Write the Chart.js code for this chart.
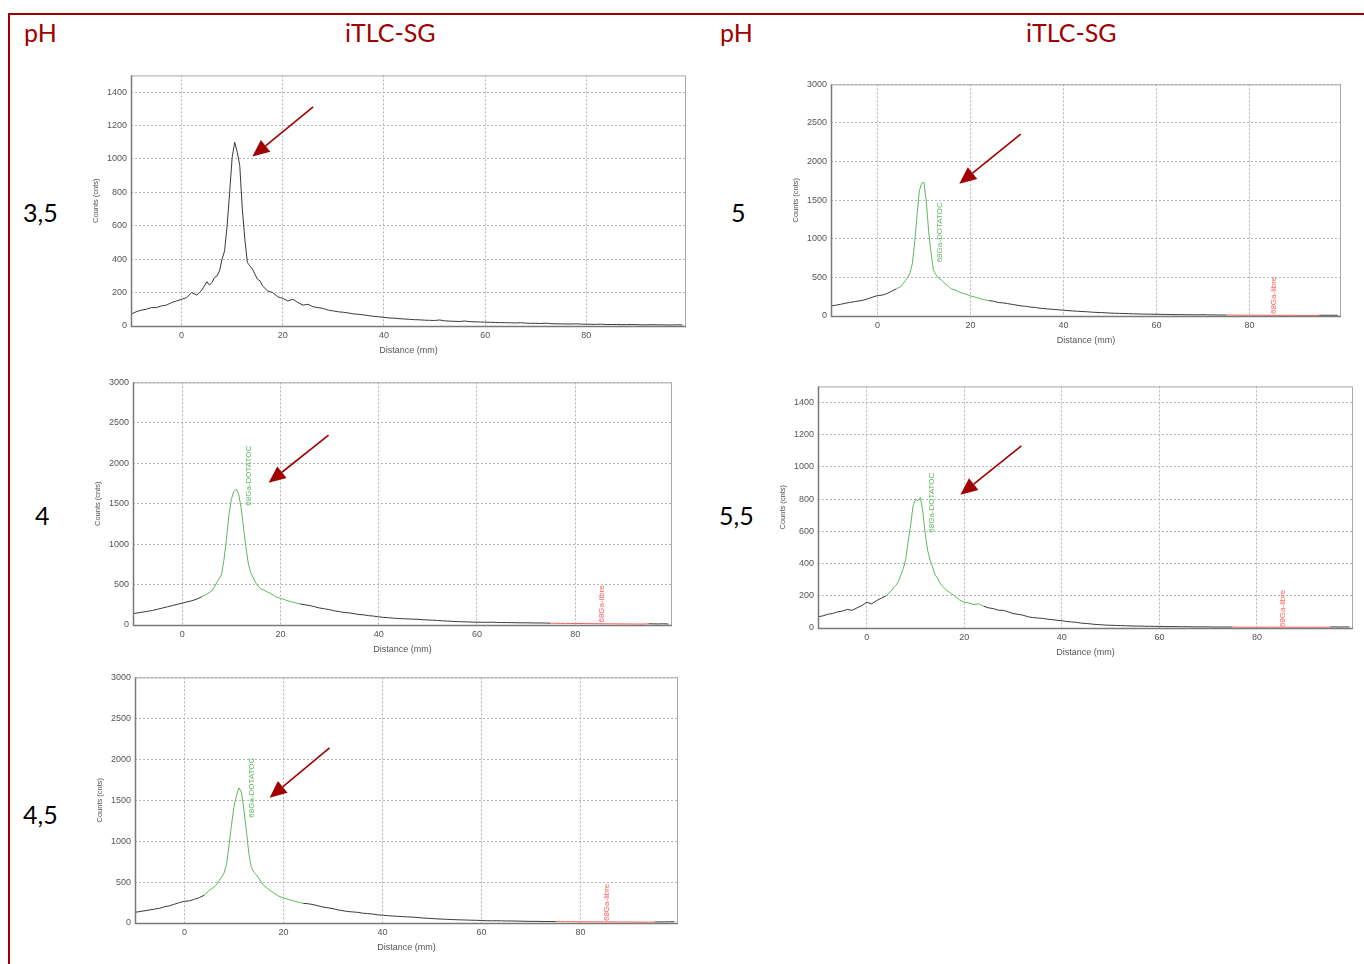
<!DOCTYPE html>
<html><head><meta charset="utf-8">
<script src="https://cdn.jsdelivr.net/npm/chart.js@4"></script>
<style>
body{margin:0;background:#fff;width:1364px;height:964px;overflow:hidden;position:relative;font-family:Lato,"Open Sans",sans-serif}
.frameTop{position:absolute;left:9px;top:13px;width:1355px;height:2px;background:#a00000}
.frameLeft{position:absolute;left:8px;top:13px;width:2px;height:951px;background:#a00000}
.t{position:absolute;font-size:25px;line-height:1;white-space:nowrap;color:#000}
.red{color:#a00000}
canvas{position:absolute}
</style></head><body>
<div class="frameTop"></div><div class="frameLeft"></div>
<div class="t red" style="left:24px;top:20px">pH</div>
<div class="t red" style="left:345px;top:20px">iTLC-SG</div>
<div class="t red" style="left:720px;top:20px">pH</div>
<div class="t red" style="left:1026px;top:20px">iTLC-SG</div>
<div class="t" style="left:23px;top:200px">3,5</div>
<div class="t" style="left:35px;top:503px">4</div>
<div class="t" style="left:23px;top:802px">4,5</div>
<div class="t" style="left:731px;top:200px">5</div>
<div class="t" style="left:719px;top:503px">5,5</div>
<canvas id="cA"></canvas><canvas id="cB"></canvas><canvas id="cC"></canvas><canvas id="cD"></canvas><canvas id="cE"></canvas>
<script>
// shared distance grid (mm)
const distance = [-10,-9,-8,-7,-6,-5,-4,-3,-2,-1,0,1,2,3,4,
 5,5.5,6,6.5,7,7.5,8,8.5,9,9.5,10,10.5,11,11.5,12,12.5,13,13.5,14,14.5,15,15.5,16,
 17,18,19,20,21,22,23,24,25,26,27,28,29,30,31,32,33,34,35,36,37,38,39,40,41,42,43,44,45,46,47,48,49,50,
 51,52,53,54,55,56,57,58,59,60,61,62,63,64,65,66,67,68,69,70,71,72,73,74,75,76,77,78,79,80,
 81,82,83,84,85,86,87,88,89,90,91,92,93,94,95,96,97,98,99];

const countsPH35 = [70,85,95,100,110,110,120,125,140,150,160,170,200,185,215,
 265,245,260,290,300,330,400,450,600,800,1010,1100,1040,960,700,520,380,360,340,310,280,270,240,
 210,200,175,165,150,160,140,125,130,115,110,105,95,90,85,82,78,72,70,66,62,58,55,52,48,47,44,42,40,38,37,35,34,33,
 36,31,29,28,27,30,26,25,24,23,22,21,20,20,19,18,20,17,16,16,15,17,14,13,13,12,12,13,11,11,
 10,10,11,9,9,9,8,8,9,8,7,7,8,7,7,6,6,7,6];

const countsPH4 = [140,150,160,170,180,195,210,225,240,255,270,285,300,320,350,
 380,400,420,460,520,570,620,800,1050,1350,1550,1650,1680,1620,1450,1200,950,750,640,580,520,480,450,
 420,390,350,330,310,290,275,260,250,240,225,210,200,190,175,165,155,150,140,130,125,115,110,100,95,90,85,80,78,75,72,70,65,62,
 60,55,52,48,45,42,40,38,36,35,34,33,35,32,30,30,29,28,27,27,26,25,25,24,22,21,20,20,19,18,
 18,17,17,16,16,15,15,14,14,14,13,13,12,12,15,14,13,15,12];

const countsPH45 = [130,140,150,160,170,180,200,210,230,250,265,270,290,310,340,
 400,420,440,470,520,560,610,720,950,1200,1420,1560,1650,1600,1380,1130,850,680,620,590,550,500,460,
 410,370,330,305,290,270,255,240,235,225,210,195,185,175,160,150,140,135,130,120,115,110,100,95,90,85,82,78,75,72,68,62,58,55,
 50,48,45,42,40,38,36,34,33,30,28,27,28,26,25,25,24,22,21,20,20,19,18,18,17,17,16,16,15,15,
 15,14,14,14,13,13,13,12,12,12,12,11,11,11,12,14,13,15,14];

const countsPH5 = [130,140,150,165,175,185,195,205,225,245,265,270,290,320,350,
 380,420,460,500,560,680,950,1300,1620,1720,1730,1480,1100,830,600,540,500,480,450,420,400,370,350,
 330,300,285,260,245,225,210,200,190,175,170,160,150,140,130,125,115,110,100,95,90,85,80,75,70,65,62,58,55,50,47,44,42,38,
 36,34,32,30,28,27,25,24,23,22,21,20,19,18,18,17,16,16,15,17,14,14,13,13,12,12,12,11,11,11,
 10,10,10,10,9,9,9,9,10,8,8,8,8,8,9,10,9,10,9];

const countsPH55 = [70,75,85,90,100,105,115,110,125,140,160,150,170,185,200,
 230,250,265,290,330,370,430,540,640,760,800,790,810,720,580,480,420,380,330,310,280,260,245,
 220,200,175,160,155,145,150,135,125,120,110,110,100,90,85,80,70,65,62,60,55,52,48,45,40,38,35,30,28,25,22,20,18,17,
 16,15,14,13,12,12,11,11,10,10,9,9,9,8,8,8,7,7,7,7,6,6,6,6,6,5,5,5,5,5,
 5,5,6,5,5,5,5,5,5,5,5,5,5,5,6,7,6,7,6];

const xTicks = [0,20,40,60,80];
const yTicks1500 = [0,200,400,600,800,1000,1200,1400];
const yTicks3000 = [0,500,1000,1500,2000,2500,3000];
const greenRange = [4,24];
const redRange = [75,95];

const GRAY='#3a3a3a', GREEN='#5cb85c', RED='#ff5a5a', ARROW='#a00000';

const charts = [
 {id:'cA', counts:countsPH35, L:131,T:74,R:686,B:326, yMax:1500, yTicks:yTicks1500, colored:false,
  labels:[], arrow:[26.0,1311,14.0,1014]},
 {id:'cB', counts:countsPH4, L:133,T:381,R:672,B:625, yMax:3000, yTicks:yTicks3000, colored:true,
  labels:[['68Ga-DOTATOC',13.5,1475,GREEN],['68Ga-libre',85.5,30,RED]], arrow:[29.8,2348,17.6,1758]},
 {id:'cC', counts:countsPH45, L:135,T:676,R:678,B:923, yMax:3000, yTicks:yTicks3000, colored:true,
  labels:[['68Ga-DOTATOC',13.5,1287,GREEN],['68Ga-libre',85.3,24,RED]], arrow:[29.3,2138,17.2,1530]},
 {id:'cD', counts:countsPH5, L:831,T:83,R:1341,B:316, yMax:3000, yTicks:yTicks3000, colored:true,
  labels:[['68Ga-DOTATOC',13.3,695,GREEN],['68Ga-libre',85.2,25,RED]], arrow:[30.8,2356,17.6,1712]},
 {id:'cE', counts:countsPH55, L:818,T:385,R:1353,B:628, yMax:1500, yTicks:yTicks1500, colored:true,
  labels:[['68Ga-DOTATOC',13.3,592,GREEN],['68Ga-libre',85.3,6,RED]], arrow:[31.7,1130,19.2,827]}
];

const YW=40, XH=30, PT=8, PR=4;

const overlay = {
 id:'overlay',
 afterDatasetsDraw(chart, args, opts){
  const {ctx, chartArea:a, scales:{x,y}} = chart;
  ctx.save();
  ctx.strokeStyle='#a8a8a8'; ctx.lineWidth=1;
  ctx.strokeRect(a.left+0.5, a.top+0.5, a.right-a.left-1, a.bottom-a.top);
  ctx.strokeStyle='#7a7a7a'; ctx.lineWidth=1.5;
  ctx.beginPath(); ctx.moveTo(a.left+0.5,a.top); ctx.lineTo(a.left+0.5,a.bottom+0.5); ctx.lineTo(a.right,a.bottom+0.5); ctx.stroke();
  ctx.font='8px "Liberation Sans", Arial, sans-serif';
  ctx.textAlign='left'; ctx.textBaseline='middle';
  (opts.labels||[]).forEach(([txt,lx,ly,col])=>{
    ctx.save(); ctx.translate(x.getPixelForValue(lx), y.getPixelForValue(ly)); ctx.rotate(-Math.PI/2);
    ctx.fillStyle=col; ctx.fillText(txt,0,0); ctx.restore();
  });
  if(opts.arrow){
    const [ax0,ay0,ax1,ay1]=opts.arrow;
    const x0=x.getPixelForValue(ax0), y0=y.getPixelForValue(ay0), x1=x.getPixelForValue(ax1), y1=y.getPixelForValue(ay1);
    const ang=Math.atan2(y1-y0,x1-x0), hl=17, hw=7.5;
    const bx=x1-hl*Math.cos(ang), by=y1-hl*Math.sin(ang);
    ctx.strokeStyle=ARROW; ctx.fillStyle=ARROW; ctx.lineWidth=1.6;
    ctx.beginPath(); ctx.moveTo(x0,y0); ctx.lineTo(bx,by); ctx.stroke();
    ctx.beginPath(); ctx.moveTo(x1,y1);
    ctx.lineTo(bx+hw*Math.sin(ang), by-hw*Math.cos(ang));
    ctx.lineTo(bx-hw*Math.sin(ang), by+hw*Math.cos(ang));
    ctx.closePath(); ctx.fill();
  }
  ctx.restore();
 }
};

const tickFont={family:'"Liberation Sans", Arial, sans-serif', size:9};

charts.forEach(c=>{
  const cv=document.getElementById(c.id);
  const w=(c.R-c.L)+YW+PR, h=(c.B-c.T)+PT+XH;
  cv.width=w; cv.height=h; cv.style.left=(c.L-YW)+'px'; cv.style.top=(c.T-PT)+'px';
  cv.style.width=w+'px'; cv.style.height=h+'px';
  const pts=distance.map((d,i)=>({x:d,y:c.counts[i]}));
  new Chart(cv,{
    type:'line',
    data:{datasets:[{data:pts, borderColor:GRAY, borderWidth:1, pointRadius:0, tension:0,
      segment:{borderColor:ctx=>{
        if(!c.colored) return GRAY;
        const a=ctx.p0.parsed.x, b=ctx.p1.parsed.x;
        if(a>=greenRange[0] && b<=greenRange[1]) return GREEN;
        if(a>=redRange[0] && b<=redRange[1]) return RED;
        return GRAY;}}}]},
    options:{
      responsive:false, animation:false, devicePixelRatio:1,
      layout:{padding:{top:PT,right:PR,left:0,bottom:0}},
      plugins:{legend:{display:false}, tooltip:{enabled:false}, overlay:{labels:c.labels, arrow:c.arrow}},
      scales:{
        x:{type:'linear', min:-10, max:99.7,
          afterBuildTicks:s=>{s.ticks=xTicks.map(v=>({value:v}));},
          afterFit:s=>{s.height=XH;},
          grid:{color:'#b5b5b5', lineWidth:1, drawTicks:false},
          border:{display:false, dash:[2,2]},
          ticks:{font:tickFont, color:'#555', padding:4, maxRotation:0, callback:v=>String(v)},
          title:{display:true, text:'Distance (mm)', font:tickFont, color:'#555', padding:{top:1,bottom:0}}},
        y:{min:0, max:c.yMax,
          afterBuildTicks:s=>{s.ticks=c.yTicks.map(v=>({value:v}));},
          afterFit:s=>{s.width=YW;},
          grid:{color:'#b5b5b5', lineWidth:1, drawTicks:false},
          border:{display:false, dash:[2,2]},
          ticks:{font:tickFont, color:'#555', padding:4, callback:v=>String(v)},
          title:{display:true, text:'Counts (cnts)', font:{family:'"Liberation Sans", Arial, sans-serif', size:7.5}, color:'#555', padding:{top:0,bottom:2}}}
      }
    },
    plugins:[overlay]
  });
});
</script>
</body></html>
